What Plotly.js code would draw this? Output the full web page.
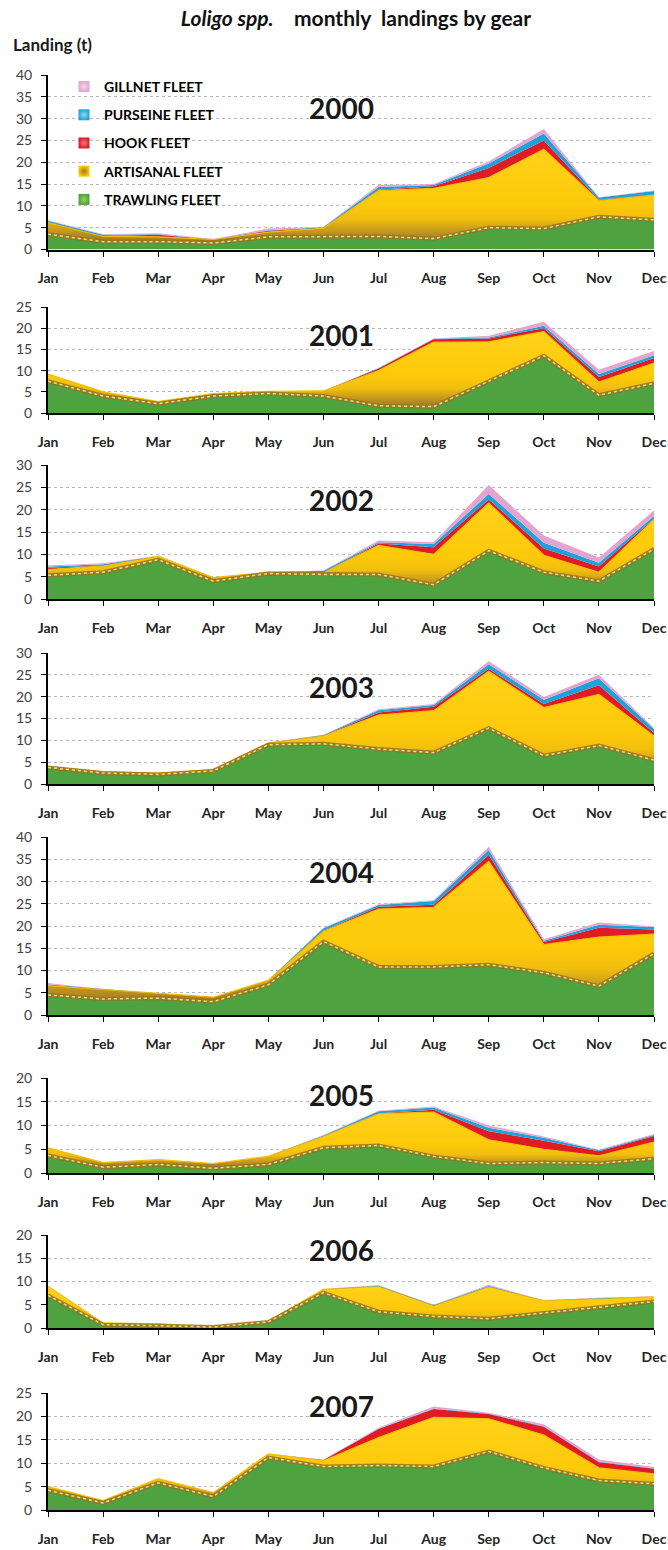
<!DOCTYPE html>
<html>
<head>
<meta charset="utf-8">
<script src="https://cdn.plot.ly/plotly-3.0.1.min.js"></script>
<style>
html,body{margin:0;padding:0;background:#fff;}
#chart{width:668px;height:1550px;}
</style>
</head>
<body>
<div id="chart"></div>
<script>
// ---------- data ----------
const months = ['Jan','Feb','Mar','Apr','May','Jun','Jul','Aug','Sep','Oct','Nov','Dec'];
const years = ['2000','2001','2002','2003','2004','2005','2006','2007'];
const yMax = [40, 25, 30, 30, 40, 20, 20, 25];

const trawling = [
  [3.5,1.8,1.8,1.5,2.9,3.0,3.0,2.5,5.0,4.8,7.5,6.8],
  [7.5,4.0,2.2,4.0,4.6,4.0,1.7,1.5,7.5,13.5,4.2,7.0],
  [5.3,6.0,8.8,4.0,5.7,5.5,5.5,3.2,10.8,6.0,4.0,11.2],
  [3.8,2.5,2.2,3.0,9.0,9.2,8.0,7.2,12.8,6.5,8.8,5.5],
  [4.5,3.6,3.8,3.0,6.8,16.5,10.8,10.8,11.3,9.5,6.5,13.8],
  [3.7,1.2,1.8,1.0,1.8,5.3,5.8,3.5,2.0,2.2,2.0,3.0],
  [7.0,0.7,0.5,0.2,1.3,7.6,3.5,2.5,2.0,3.2,4.5,5.7],
  [4.2,1.5,5.8,2.9,11.2,9.3,9.5,9.3,12.5,9.0,6.3,5.6]
];
const artisanal = [
  [2.7,1.2,1.1,0.8,1.1,1.9,10.5,11.5,11.5,18.2,3.7,5.7],
  [1.7,1.0,0.5,0.6,0.5,1.2,8.3,15.2,9.3,5.7,3.1,4.8],
  [1.3,1.4,0.8,0.8,0.3,0.5,6.5,6.8,10.7,3.8,2.0,6.6],
  [0.2,0.3,0.3,0.3,0.4,1.8,7.8,9.6,13.0,11.0,11.7,5.5],
  [2.1,2.1,1.0,1.0,1.0,2.3,13.0,13.4,23.2,6.3,11.0,4.4],
  [1.6,1.0,1.0,1.0,1.7,2.4,6.7,9.3,5.0,2.8,1.6,3.5],
  [2.0,0.4,0.4,0.1,0.2,0.7,5.5,2.3,6.8,2.7,1.8,1.0],
  [0.8,0.5,0.9,0.8,0.8,1.2,6.0,10.5,7.0,7.0,2.7,2.1]
];
const hook = [
  [0.1,0.1,0.5,0,0.3,0.1,0.2,0.5,2.2,2.0,0.2,0.1],
  [0,0,0,0,0,0,0.5,0.7,0.8,0.8,1.2,1.2],
  [0.4,0.1,0,0,0,0,0.4,1.6,0.8,1.5,1.3,0.2],
  [0,0,0,0,0,0.1,0.6,0.9,0.6,0.8,2.1,0.7],
  [0.2,0.1,0,0,0,0.2,0.5,0.6,1.5,0.6,2.1,1.0],
  [0,0,0,0,0,0.1,0.1,0.5,1.8,1.8,1.0,1.3],
  [0,0,0,0,0,0,0,0,0.1,0,0,0],
  [0,0,0,0,0,0.2,1.8,1.8,1.0,1.8,1.2,1.1]
];
const purseine = [
  [0.3,0.3,0.1,0,0.1,0.1,0.6,0.3,1.0,1.6,0.5,0.8],
  [0,0,0,0,0,0,0.1,0.1,0.2,0.6,0.7,0.6],
  [0.3,0.3,0,0,0,0.3,0.3,0.7,1.2,1.3,0.8,0.6],
  [0,0,0,0,0,0.1,0.5,0.4,1.0,1.0,1.6,0.9],
  [0.1,0,0,0,0,0.5,0.4,0.8,1.1,0.3,0.7,0.6],
  [0,0,0,0,0,0.1,0.4,0.5,0.7,0.6,0.2,0.2],
  [0,0,0,0,0,0,0.1,0.1,0.2,0,0.1,0],
  [0,0,0,0,0,0,0.1,0.1,0.1,0.1,0.1,0.1]
];
const gillnet = [
  [0.1,0.1,0.2,0.1,0.4,0.1,0.5,0.2,0.5,1.0,0.1,0.1],
  [0,0,0,0,0,0,0,0.1,0.4,0.9,1.0,1.0],
  [0.2,0.2,0,0,0,0.1,0.4,0.4,2.0,1.6,1.2,1.2],
  [0,0,0,0,0,0.1,0.2,0.2,0.7,0.6,0.8,0.2],
  [0.3,0,0,0,0,0.1,0.2,0.2,0.7,0.3,0.5,0.1],
  [0,0,0,0,0,0.1,0.1,0.2,0.5,0.3,0.1,0.2],
  [0,0,0,0,0,0,0.1,0.1,0.2,0,0.1,0.1],
  [0,0,0,0,0,0.1,0.2,0.4,0.2,0.4,0.5,0.3]
];
const fleetNames = ['TRAWLING FLEET','ARTISANAL FLEET','HOOK FLEET','PURSEINE FLEET','GILLNET FLEET'];

// ---------- layout geometry ----------
const W = 668, H = 1550, ML = 48, MR = 14;
const PW = W - ML - MR;
const panelTop  = [75, 307, 465, 653, 837, 1078, 1235, 1393];
const panelZero = [249.5, 413, 599, 784, 1015, 1173, 1328, 1510];
const yearLabelY = [108, 335, 500, 687, 872, 1095, 1250, 1406];
const px2x = px => (px - ML) / PW;
const px2y = py => 1 - py / H;
const FONT = 'Lato, "Open Sans", sans-serif';

const styles = [
  {fill:'#4ea23f', line:'#93d054', lw:2.5, grad:'#93d65e'},
  {fill:'#fdc90a', line:'#f3be02', lw:1.2, grad:'#a8781a'},
  {fill:'#e01b23', line:'#c8141c', lw:0,   grad:'#f07a80'},
  {fill:'#1fa2da', line:'#1fa2da', lw:0,   grad:'#8fd8f4'},
  {fill:'#e4a4cf', line:'#e4a4cf', lw:0,   grad:'#f6d6ea'}
];
const series = [trawling, artisanal, hook, purseine, gillnet];
// brown-to-yellow shading of the artisanal band (3-D look of the original)
const artisanalScale = [[0,'#8a6518'],[0.14,'#b48a22'],[0.3,'#f0be0e'],[0.45,'#fdc90a'],[1,'#ffd21a']];

const traces = [];
const layout = {
  width: W, height: H,
  margin: {l: ML, r: MR, t: 0, b: 0},
  paper_bgcolor: '#fff', plot_bgcolor: 'rgba(0,0,0,0)',
  font: {family: FONT, color: '#222'},
  showlegend: true,
  hovermode: false,
  title: {
    text: '<i>Loligo spp.</i> &nbsp; &nbsp;monthly &nbsp;landings by gear',
    font: {family: FONT, size: 21, weight: 'bold', color: '#111'},
    x: 356 / W, xref: 'container', xanchor: 'center',
    y: 1 - 19 / H, yref: 'container', yanchor: 'middle'
  },
  legend: {
    x: px2x(64), xanchor: 'left', y: px2y(71), yanchor: 'top',
    bgcolor: 'rgba(0,0,0,0)', borderwidth: 0,
    font: {family: FONT, size: 14, weight: 'bold', color: '#000'},
    itemwidth: 30, tracegroupgap: 7, traceorder: 'grouped'
  },
  annotations: [
    {text: 'Landing (t)', xref: 'paper', yref: 'paper', x: px2x(11), y: px2y(44),
     xanchor: 'left', yanchor: 'middle', showarrow: false,
     font: {family: FONT, size: 17, weight: 'bold', color: '#1a1a1a'}}
  ]
};

years.forEach((yr, p) => {
  const sfx = p === 0 ? '' : String(p + 1);
  const xa = 'x' + sfx, ya = 'y' + sfx;
  const artTop = Math.max(...trawling[p].map((t, i) => t + artisanal[p][i]));
  series.forEach((s, f) => {
    const tr = {
      type: 'scatter', x: months, y: s[p], xaxis: xa, yaxis: ya,
      stackgroup: 'g' + p, mode: 'lines', name: fleetNames[f],
      line: {color: styles[f].line, width: styles[f].lw, shape: 'linear'},
      fillcolor: styles[f].fill, showlegend: false, hoverinfo: 'skip'
    };
    if (f === 1) {
      tr.fillgradient = {type: 'vertical', start: 0, stop: artTop, colorscale: artisanalScale};
    }
    traces.push(tr);
  });
  // bevel effect along the trawling / artisanal boundary
  traces.push({type: 'scatter', x: months, y: trawling[p], xaxis: xa, yaxis: ya, mode: 'lines',
    line: {color: 'rgba(150,110,30,0.8)', width: 4}, showlegend: false, hoverinfo: 'skip'});
  traces.push({type: 'scatter', x: months, y: trawling[p], xaxis: xa, yaxis: ya, mode: 'lines',
    line: {color: 'rgba(245,226,140,0.9)', width: 1.5, dash: 'dot'}, showlegend: false, hoverinfo: 'skip'});

  layout['xaxis' + sfx] = {
    domain: [0, 1], anchor: ya, type: 'category', range: [0, 11],
    showgrid: false, zeroline: false, showline: true, linecolor: '#000', linewidth: 2,
    ticks: 'outside', ticklen: 5, tickwidth: 1, tickcolor: '#000',
    tickfont: {family: FONT, size: 14, weight: 'bold', color: '#262626'},
    ticklabelstandoff: 10, fixedrange: true
  };
  layout['yaxis' + sfx] = {
    domain: [px2y(panelZero[p]), px2y(panelTop[p])], anchor: xa,
    range: [0, yMax[p]], tick0: 0, dtick: 5,
    showgrid: true, gridcolor: '#b8b8b8', griddash: 'dot', gridwidth: 1,
    zeroline: false, showline: true, linecolor: '#000', linewidth: 2,
    ticks: 'outside', ticklen: 5, tickwidth: 1, tickcolor: '#000',
    tickfont: {family: FONT, size: 14, color: '#404040'},
    ticklabelstandoff: 6, fixedrange: true
  };
  layout.annotations.push({
    text: yr, xref: 'paper', yref: 'paper', x: px2x(341), y: px2y(yearLabelY[p]),
    xanchor: 'center', yanchor: 'middle', showarrow: false,
    font: {family: FONT, size: 28, weight: 'bold', color: '#1a1a1a'}
  });
});

// legend entries (square icons), listed top to bottom as in the original
[4, 3, 2, 1, 0].forEach((f, i) => {
  traces.push({
    type: 'scatter', x: [null], y: [null], xaxis: 'x', yaxis: 'y', mode: 'markers',
    name: fleetNames[f], legendgroup: 'lg' + i, showlegend: true, hoverinfo: 'skip',
    marker: {symbol: 'square', size: 11, color: styles[f].fill,
             gradient: {type: 'radial', color: styles[f].grad}, line: {width: 0}}
  });
});

Plotly.newPlot('chart', traces, layout, {staticPlot: true, displayModeBar: false});
</script>
</body>
</html>
